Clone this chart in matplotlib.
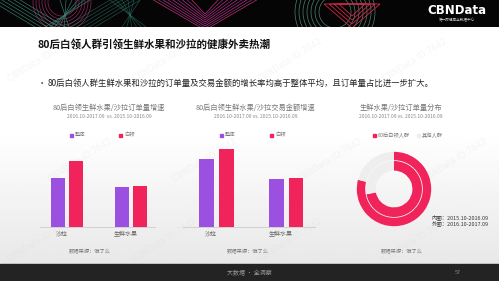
import numpy as np
import matplotlib
matplotlib.use('Agg')
import matplotlib.pyplot as plt
from matplotlib.patches import Rectangle, Circle, Polygon

plt.rcParams['font.family'] = ['Noto Sans CJK SC', 'DejaVu Sans']

W, H = 499, 281

# ---- data ----
categories = ['沙拉', '生鲜水果']
series_names = ['整体', '白领']
order_growth_all = [49, 40]       # 订单量增速 - 整体
order_growth_wc = [66, 41]        # 订单量增速 - 白领
amount_growth_all = [68, 48]      # 交易金额增速 - 整体
amount_growth_wc = [78, 49]       # 交易金额增速 - 白领
share_names = ['80后白领人群', '其他人群']
share_outer = [79, 21]            # 2016.10-2017.09
share_inner = [72, 28]            # 2015.10-2016.09

PURPLE = '#9b50e0'
RED = '#f0245a'
GRAY_RING = '#eeeeee'
TXT = '#777777'

fig = plt.figure(figsize=(W / 100, H / 100), dpi=100)


def px_axes(x0, y0, x1, y1, **kw):
    return fig.add_axes([x0 / W, 1 - y1 / H, (x1 - x0) / W, (y1 - y0) / H], **kw)


# background with soft gradient
bg = px_axes(0, 0, W, H)
bg.set_xlim(0, W)
bg.set_ylim(H, 0)
bg.axis('off')
rows = np.linspace(0, 1, 100)
grad = np.repeat(np.clip((rows[:, None] - 0.45) / 0.55, 0, 1), 2, axis=1)
bg.imshow(1 - 0.09 * grad, cmap='gray', vmin=0, vmax=1, extent=(0, W, 264, 26),
          aspect='auto', zorder=0)

# top banner
bn = px_axes(0, 0, W, 27)
bn.set_xlim(0, W)
bn.set_ylim(27, 0)
bn.axis('off')
bn.add_patch(Rectangle((0, 0), W, 27, color='#050505', zorder=0))
for k in range(6):
    o = k * 6
    bn.plot([-10 + o, 40 + o, 90 - o], [0, 30, 0], color='#3f8f80', lw=0.5, alpha=0.8)
    bn.plot([60 + o, 110 + o, 150 - o], [30, 0, 30], color='#2f7f70', lw=0.5, alpha=0.6)
for r in range(14, 30, 3):
    bn.add_patch(Circle((62, 2), r, fill=False, ec='#b0306a', lw=0.5, alpha=0.8))
for k in range(9):
    w = 55 - k * 5
    col = '#8a2a9a' if k % 2 else '#c8306a'
    bn.add_patch(Polygon([(205 - w, -2), (205 + w, -2), (205, 30 - k * 2)],
                         closed=True, fill=False, ec=col, lw=0.5))
for r in range(16, 44, 4):
    bn.add_patch(Circle((335, 12), r, fill=False, ec='#5fa085', lw=0.5, alpha=0.8))
for k in range(4):
    w = 28 - k * 5
    bn.add_patch(Polygon([(352 - w, 4), (352 + w, 4), (352, 28 - k * 4)],
                         closed=True, fill=False, ec='#d02848', lw=0.6))
bn.text(457, 11, 'CBNData', color='white', fontsize=8.5, fontweight='bold',
        ha='center', va='center', family=['DejaVu Sans'])
bn.text(457, 20, '第一财经商业数据中心', color='#cccccc', fontsize=2.6,
        ha='center', va='center')

# bottom bar
bg.add_patch(Rectangle((0, 264), W, 17, color='#232323', zorder=1))
bg.text(249, 273, '大数据 · 全洞察', color='#999999', fontsize=4.3, ha='center', va='center', zorder=2)
bg.text(458, 273, '57', color='#888888', fontsize=4, ha='center', va='center', zorder=2)

# title and bullet
bg.text(38, 45, '80后白领人群引领生鲜水果和沙拉的健康外卖热潮', fontsize=7.6,
        fontweight='bold', color='#111111', va='center')
bg.text(38, 83, '•', fontsize=6, color='#333333', va='center')
bg.text(48, 83, '80后白领人群生鲜水果和沙拉的订单量及交易金额的增长率均高于整体平均，且订单量占比进一步扩大。',
        fontsize=6, color='#222222', va='center')

# subtitles
subs = [(109, '80后白领生鲜水果/沙拉订单量增速', '2016.10-2017.09  vs. 2015.10-2016.09'),
        (256, '80后白领生鲜水果/沙拉交易金额增速', '2016.10-2017.09 vs. 2015.10-2016.09'),
        (401, '生鲜水果/沙拉订单量分布', '2016.10-2017.09 vs. 2015.10-2016.09')]
for cx, s1, s2 in subs:
    bg.text(cx, 108, s1, fontsize=5.2, color=TXT, ha='center', va='center')
    bg.text(cx, 117, s2, fontsize=3.6, color='#888888', ha='center', va='center')

# sources
for cx in (90, 248, 402):
    bg.text(cx, 252, '数据来源：饿了么', fontsize=3.8, color='#777777', ha='center', va='center')


def bar_chart(box, all_vals, wc_vals, leg_x):
    ax = px_axes(*box)
    x = np.arange(len(categories))
    ax.bar(x - 0.06, all_vals, width=0.21, color=PURPLE)
    ax.bar(x + 0.22, wc_vals, width=0.21, color=RED)
    ax.set_ylim(0, 100)
    ax.set_xticks(x)
    ax.set_xticklabels(categories, fontsize=4.3, color='#666666')
    ax.tick_params(length=0, pad=3)
    ax.set_yticks([])
    for s in ('top', 'right', 'left'):
        ax.spines[s].set_visible(False)
    ax.spines['bottom'].set_color('#cccccc')
    ax.spines['bottom'].set_linewidth(0.6)
    ax.patch.set_alpha(0)
    for lx, col, name in zip(leg_x, (PURPLE, RED), series_names):
        bg.add_patch(Rectangle((lx - 1.5, 133.5), 3, 3, color=col, zorder=3))
        bg.text(lx + 3, 135, name, fontsize=3.8, color='#777777', va='center')
    return ax


ax1 = bar_chart((40, 127, 155, 227), order_growth_all, order_growth_wc, (72, 121))
ax1.set_xlim(-0.34, 1.45)
ax2 = bar_chart((183, 127, 315, 227), amount_growth_all, amount_growth_wc, (222, 272))
ax2.set_xlim(-0.4, 1.49)

# donut chart
ax3 = px_axes(354, 149, 434, 229)
ax3.pie(share_outer, radius=0.93, colors=[RED, GRAY_RING], startangle=90,
        counterclock=False, wedgeprops=dict(width=0.21, edgecolor='none'))
ax3.pie(share_inner, radius=0.70, colors=[RED, GRAY_RING], startangle=90,
        counterclock=False, wedgeprops=dict(width=0.24, edgecolor='none'))
ax3.set_xlim(-1, 1)
ax3.set_ylim(-1, 1)
ax3.set_aspect('equal')
ax3.axis('off')

bg.add_patch(Rectangle((373, 133.5), 3, 3, color=RED, zorder=3))
bg.text(377.5, 135, share_names[0], fontsize=3.8, color='#777777', va='center')
bg.add_patch(Rectangle((417, 133.5), 3, 3, color='#eeeeee', zorder=3))
bg.text(421.5, 135, share_names[1], fontsize=3.8, color='#777777', va='center')

bg.text(432, 217, '内圈：2015.10-2016.09', fontsize=3.9, color='#333333', va='center')
bg.text(432, 223, '外圈：2016.10-2017.09', fontsize=3.9, color='#333333', va='center')

# very faint watermarks, kept inside the slide
for j, y in enumerate((60, 160, 240)):
    for x in range(40 + (j % 2) * 40, 470, 125):
        bg.text(x, y, 'CBNData ID:7642', fontsize=6, color='#d5d5d5', alpha=0.22,
                rotation=32, ha='center', va='center', zorder=5, family=['DejaVu Sans'])

fig.savefig('out.png', dpi=100)
